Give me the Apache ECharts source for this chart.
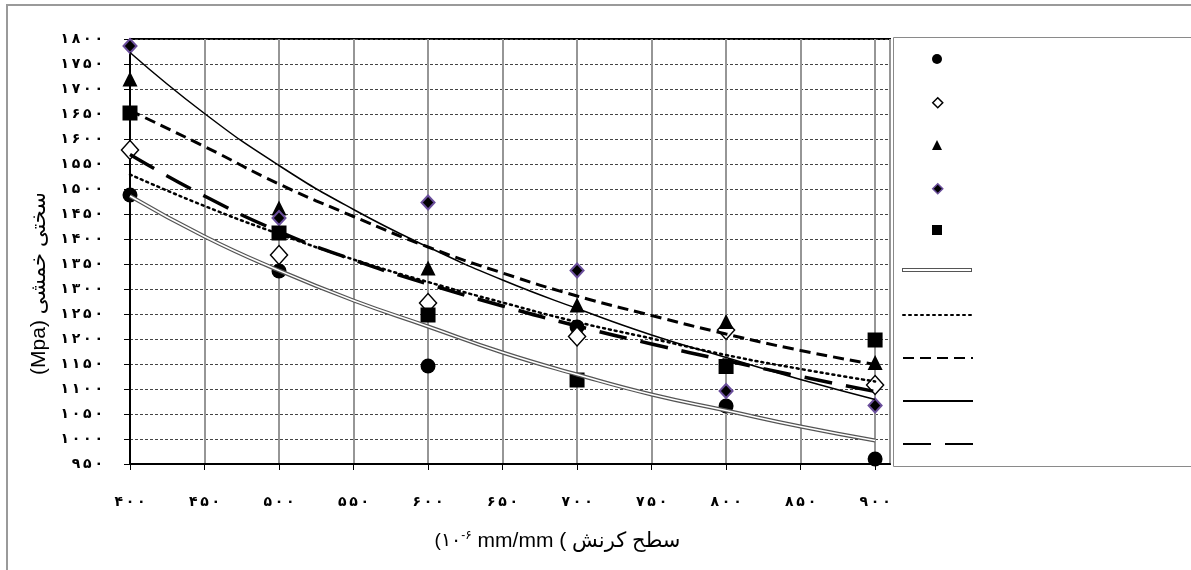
<!DOCTYPE html>
<html>
<head>
<meta charset="utf-8">
<script src="https://cdn.jsdelivr.net/npm/echarts@6/dist/echarts.min.js"></script>
<style>
  html, body { margin: 0; padding: 0; background: #fff; }
  #chart { width: 1191px; height: 570px; }
</style>
</head>
<body>
<div id="chart"></div>
<script>
// x positions of the measurements and of the trend curves
const strainX = [400, 500, 600, 700, 800, 900]
const trendX = [400, 450, 500, 550, 600, 650, 700, 750, 800, 850, 900]

// measured points
const circleVals = [1488, 1336, 1146, 1224, 1066, 960]
const openDiamondVals = [1578, 1368, 1272, 1205, 1218, 1108]
const triangleVals = [1720, 1462, 1342, 1268, 1235, 1153]
const purpleDiamondVals = [1786, 1442, 1473, 1337, 1096, 1067]
const squareVals = [1652, 1412, 1248, 1118, 1145, 1198]

// trend curves
const trendCircle = [1486, 1405, 1337, 1277, 1225, 1173, 1129, 1089, 1057, 1025, 997]
const trendOpenDiamond = [1529, 1466, 1410, 1359, 1314, 1273, 1234, 1201, 1168, 1140, 1115]
const trendTriangle = [1657, 1585, 1510, 1445, 1384, 1332, 1286, 1247, 1210, 1177, 1149]
const trendPurple = [1773, 1651, 1547, 1459, 1384, 1318, 1261, 1208, 1163, 1119, 1079]
const trendSquare = [1569, 1486, 1415, 1358, 1310, 1266, 1226, 1190, 1157, 1125, 1095]

const faDigits = '۰۱۲۳۴۵۶۷۸۹'
function toFa(n) {
  return String(n).replace(/\d/g, d => faDigits[d])
}
function pairs(xs, ys) {
  return xs.map((x, i) => [x, ys[i]])
}

const FONT = "'Liberation Sans', 'DejaVu Sans', sans-serif"

function scatter(name, vals, symbol, size, itemStyle) {
  return {
    name: name,
    type: 'scatter',
    data: pairs(strainX, vals),
    symbol: symbol,
    symbolSize: size,
    itemStyle: Object.assign({ opacity: 1 }, itemStyle),
    z: 2
  }
}
function trend(name, vals, lineStyle) {
  return {
    name: name,
    type: 'line',
    data: pairs(trendX, vals),
    smooth: true,
    symbol: 'none',
    lineStyle: lineStyle,
    itemStyle: { color: lineStyle.color },
    z: 3
  }
}

// legend rows (no text in the original legend), one legend per row
const legendRows = [
  { name: 'S1', y: 59, icon: 'path://M5,0 A5,5 0 1 1 4.99,0 Z' },
  { name: 'S2', y: 102, icon: 'path://M5,0 L10,5 L5,10 L0,5 Z', itemStyle: { borderWidth: 1.5 } },
  { name: 'S3', y: 145, icon: 'path://M5,0 L10,10 L0,10 Z' },
  { name: 'S4', y: 188, icon: 'path://M5,0 L10,5 L5,10 L0,5 Z', itemStyle: { borderWidth: 1.5 } },
  { name: 'S5', y: 230, icon: 'path://M0,0 L10,0 L10,10 L0,10 Z' },
  { name: 'T1', y: 273, line: true, icon: 'path://M0,0 L70,0 L70,4 L0,4 Z M1,1 L1,3 L69,3 L69,1 Z' },
  { name: 'T2', y: 316, line: true, itemStyle: { opacity: 0 } },
  { name: 'T3', y: 359, line: true, itemStyle: { opacity: 0 } },
  { name: 'T4', y: 402, line: true, itemStyle: { opacity: 0 } },
  { name: 'T5', y: 445, line: true, itemStyle: { opacity: 0 } }
]
const legends = legendRows.map(r => {
  const item = { name: r.name }
  if (r.icon) item.icon = r.icon
  if (r.itemStyle) item.itemStyle = r.itemStyle
  return {
    left: r.line ? 902 : 932,
    top: r.y - 5,
    padding: 0,
    itemWidth: r.line ? 70 : 10,
    itemHeight: 10,
    symbolKeepAspect: true,
    textStyle: { fontSize: 6, lineHeight: 10 },
    formatter: () => '',
    data: [item]
  }
})

const chart = echarts.init(document.getElementById('chart'))
const option = {
  backgroundColor: '#fff',
  animation: false,
  graphic: [
    {
      type: 'polyline',
      shape: { points: [[7, 600], [7, 5], [1200, 5]] },
      style: { fill: 'none', stroke: '#9a9a9a', lineWidth: 2 },
      z: -10
    },
    {
      type: 'polyline',
      shape: { points: [[1200, 37.5], [893.5, 37.5], [893.5, 466.5], [1200, 466.5]] },
      style: { fill: 'none', stroke: '#8a8a8a', lineWidth: 1 },
      z: -10
    }
  ],
  grid: {
    left: 130,
    top: 39,
    right: 301,
    bottom: 106,
    show: true,
    borderColor: '#000',
    borderWidth: 2
  },
  legend: legends,
  xAxis: {
    type: 'value',
    min: 400,
    max: 910,
    interval: 50,
    name: '{a|\u200E(۱۰}{s|-۶}{b| mm/mm (\u200E }{c|سطح کرنش}',
    nameLocation: 'middle',
    nameGap: 66,
    nameTextStyle: {
      padding: [0, 0, 0, 95],
      rich: {
        a: { fontFamily: FONT, fontSize: 19, color: '#000' },
        s: { fontFamily: FONT, fontSize: 12, color: '#000', verticalAlign: 'top', padding: [0, 0, 10, 0] },
        b: { fontFamily: FONT, fontSize: 21, color: '#000' },
        c: { fontFamily: FONT, fontSize: 21, color: '#000' }
      }
    },
    axisLine: { show: true, lineStyle: { color: '#000', width: 2 } },
    axisTick: { show: true, length: 6, lineStyle: { color: '#000', width: 1 } },
    axisLabel: {
      margin: 31,
      fontFamily: FONT,
      fontSize: 14,
      fontWeight: 'bold',
      color: '#000',
      showMaxLabel: false,
      formatter: v => (v % 50 === 0 && v <= 900 ? toFa(v).split('').join('\u2009') : '')
    },
    splitLine: { show: true, lineStyle: { color: '#969696', width: 2 } }
  },
  yAxis: {
    type: 'value',
    min: 950,
    max: 1800,
    interval: 50,
    name: '(Mpa) سختی خمشی',
    nameLocation: 'middle',
    nameRotate: 90,
    nameGap: 76,
    nameTextStyle: { fontFamily: FONT, fontSize: 21, color: '#000', padding: [0, 64, 0, 0] },
    axisLine: { show: true, lineStyle: { color: '#000', width: 2 } },
    axisTick: { show: true, length: 6, lineStyle: { color: '#000', width: 1 } },
    axisLabel: {
      margin: 27,
      fontFamily: FONT,
      fontSize: 14,
      fontWeight: 'bold',
      color: '#000',
      formatter: v => toFa(v).split('').join('\u2009')
    },
    splitLine: { show: true, lineStyle: { color: '#444', width: 1, type: [3, 2] } }
  },
  series: [
    scatter('S1', circleVals, 'circle', 15, { color: '#000' }),
    scatter('S2', openDiamondVals, 'diamond', [17, 19], { color: '#fff', borderColor: '#000', borderWidth: 1.5 }),
    scatter('S3', triangleVals, 'triangle', [15, 15], { color: '#000' }),
    scatter('S4', purpleDiamondVals, 'diamond', [13, 14], { color: '#000', borderColor: '#6b4f9c', borderWidth: 2 }),
    scatter('S5', squareVals, 'rect', 15, { color: '#000' }),
    trend('T1', trendCircle, { color: '#555', width: 4 }),
    {
      name: 'T1-core',
      type: 'line',
      data: pairs(trendX, trendCircle),
      smooth: true,
      symbol: 'none',
      lineStyle: { color: '#fff', width: 1.5 },
      z: 4
    },
    trend('T2', trendOpenDiamond, { color: '#000', width: 2.5, type: [2, 4], cap: 'round' }),
    trend('T3', trendTriangle, { color: '#000', width: 3, type: [11, 6] }),
    trend('T4', trendPurple, { color: '#000', width: 1.5 }),
    trend('T5', trendSquare, { color: '#000', width: 3.5, type: [28, 14] })
  ]
}
chart.setOption(option)
</script>
</body>
</html>
